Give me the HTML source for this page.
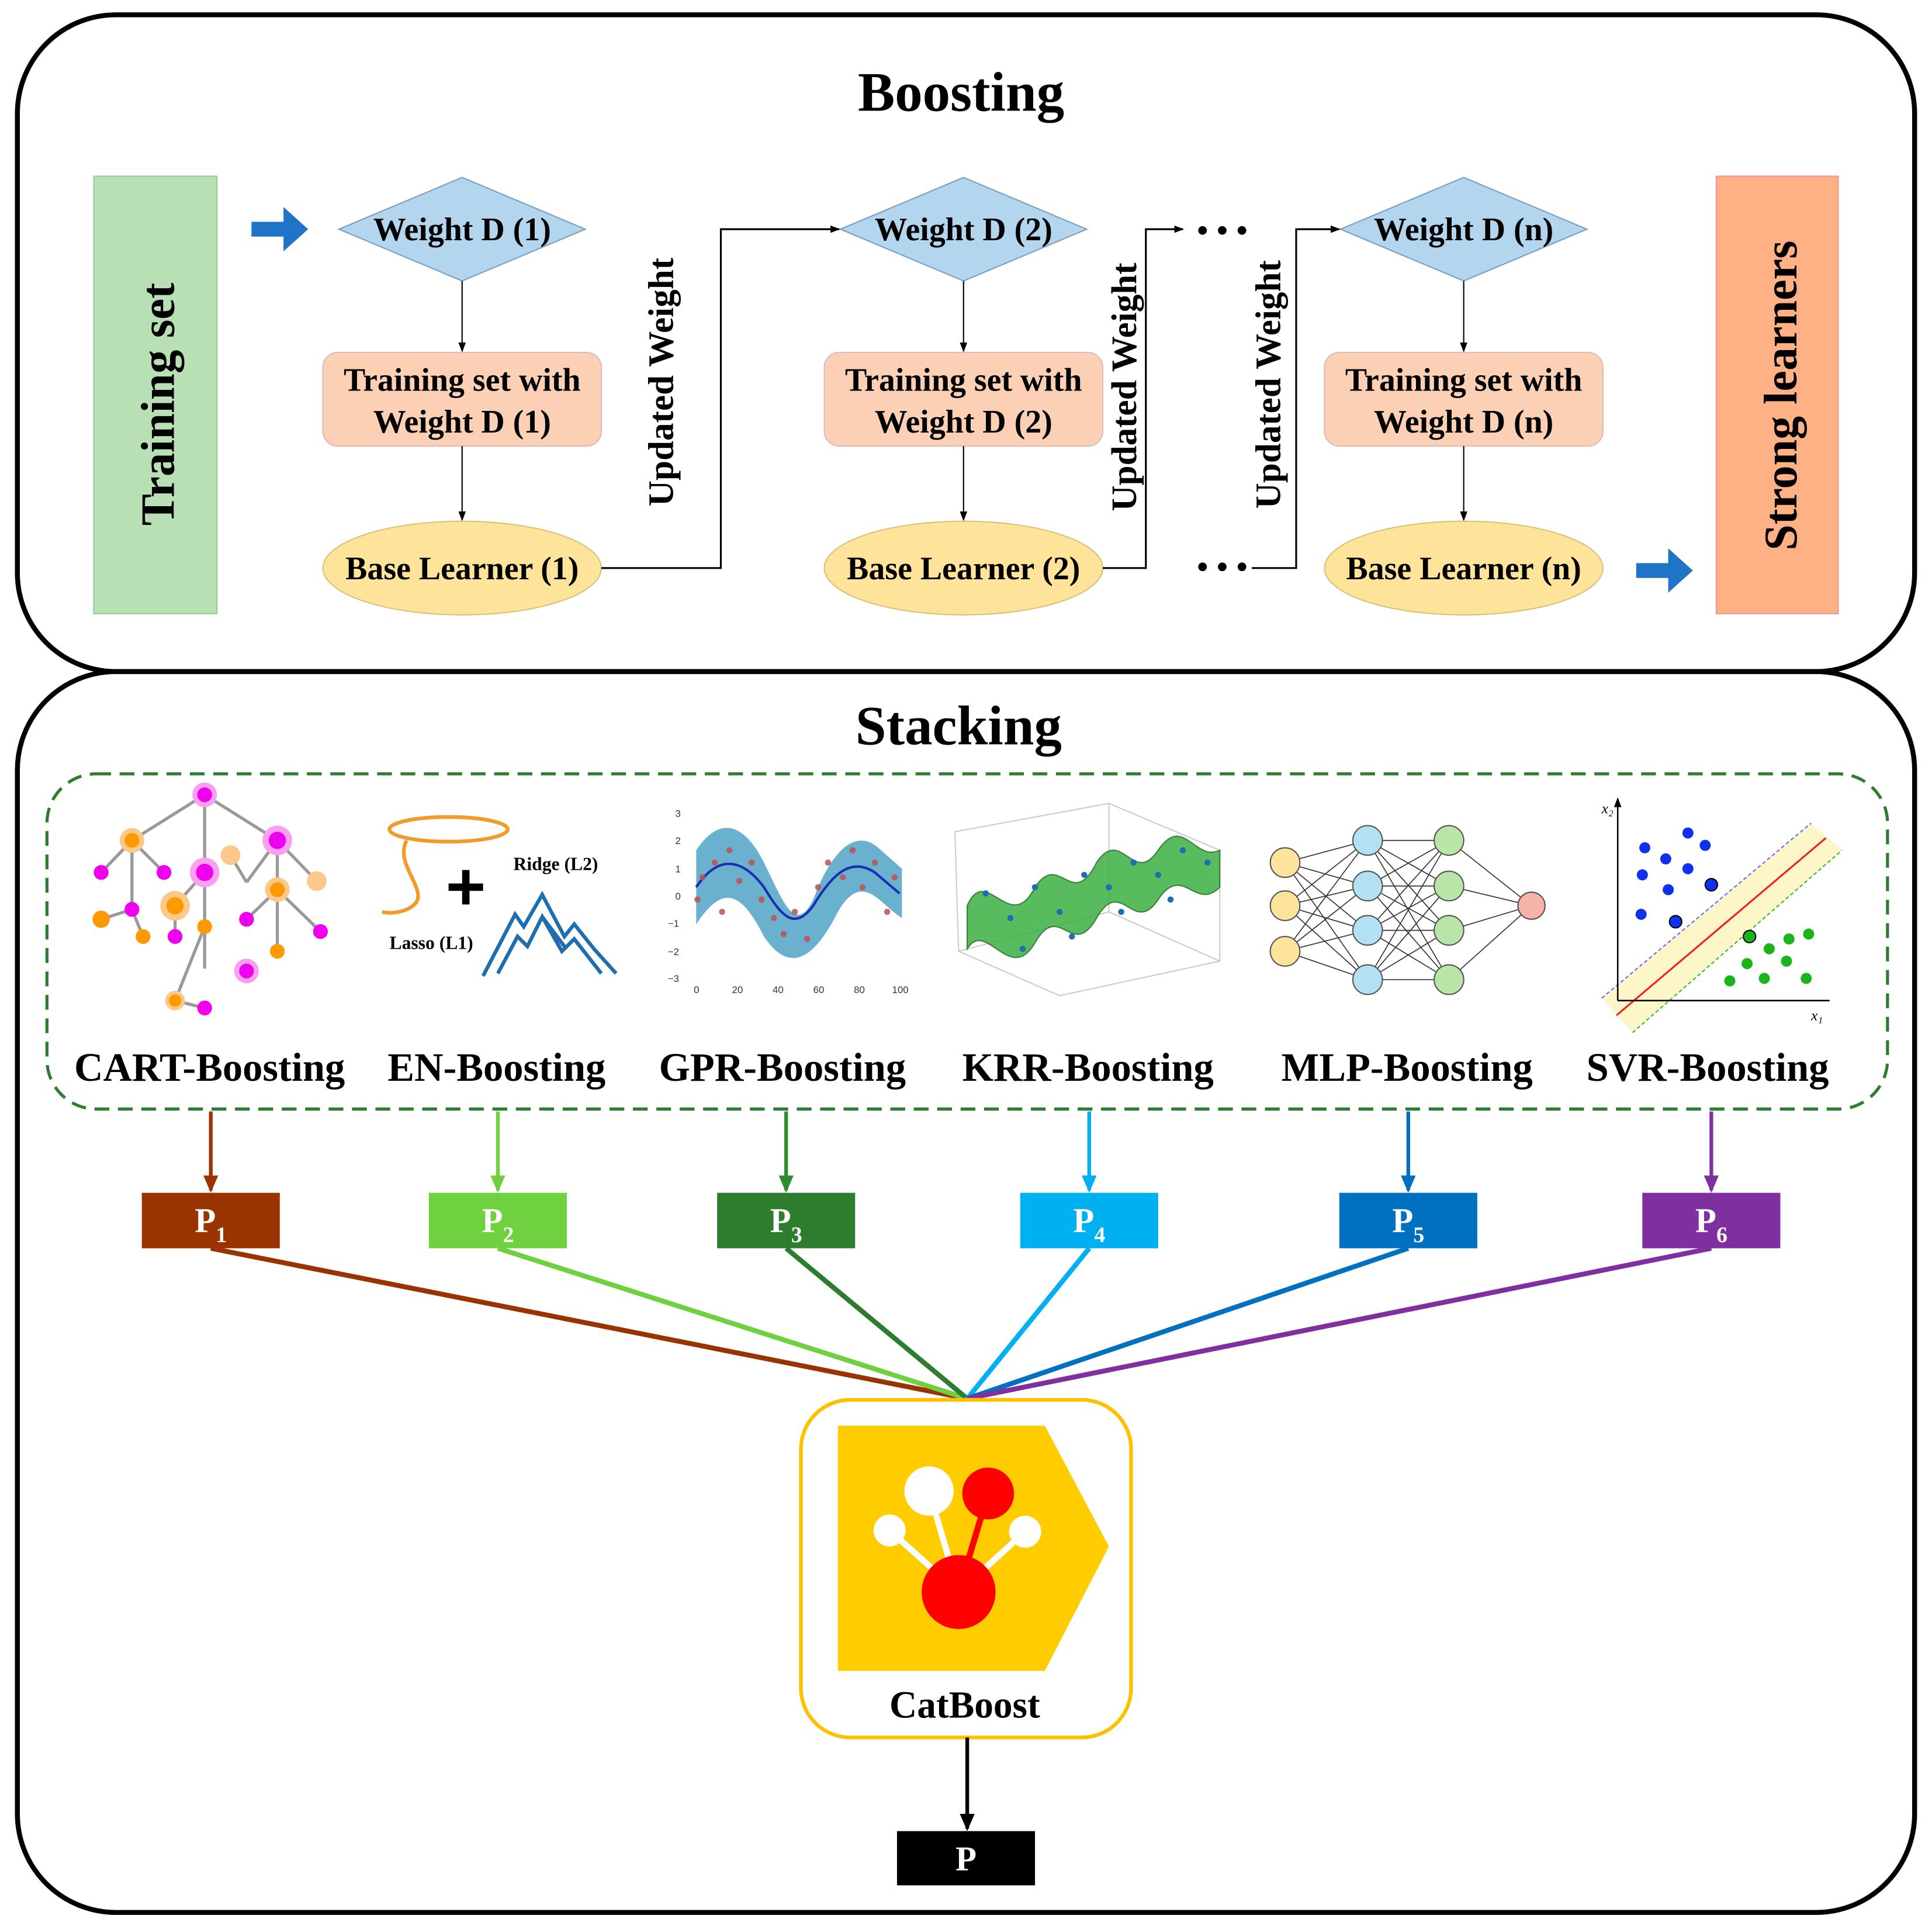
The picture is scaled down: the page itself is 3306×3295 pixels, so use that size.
<!DOCTYPE html>
<html><head><meta charset="utf-8"><style>html,body{margin:0;padding:0;background:#fff}svg{display:block}</style></head><body>
<svg width="3306" height="3295" viewBox="0 0 1568 1563" xmlns="http://www.w3.org/2000/svg" font-family="Liberation Serif, serif" font-weight="bold">
<defs>
<marker id="a" markerWidth="8" markerHeight="8" refX="7" refY="4" orient="auto" markerUnits="userSpaceOnUse"><path d="M0,1 L8,4 L0,7z" fill="#000"/></marker>
<marker id="a2" markerWidth="14" markerHeight="14" refX="12" refY="7" orient="auto" markerUnits="userSpaceOnUse"><path d="M0,1 L14,7 L0,13z" fill="context-stroke"/></marker>
</defs>
<rect width="1568" height="1563" fill="#fff"/>
<rect x="14" y="12" width="1540" height="533" rx="80" fill="none" stroke="#000" stroke-width="4"/>
<rect x="14" y="545" width="1540" height="1007" rx="80" fill="none" stroke="#000" stroke-width="4"/>
<text x="780" y="90" font-size="45" text-anchor="middle">Boosting</text>
<rect x="76" y="143" width="100" height="355" fill="#b9e0b4" stroke="#9c9"/>
<text transform="translate(141,328) rotate(-90)" font-size="38.5" text-anchor="middle">Training set</text>
<rect x="1393" y="143" width="99" height="355" fill="#fdb184" stroke="#e99"/>
<text transform="translate(1458,321) rotate(-90)" font-size="38" text-anchor="middle">Strong learners</text>
<path d="M204,180 h26 v-12 l20,18 l-20,18 v-12 h-26z" fill="#1f74c8"/>
<path d="M1328,457 h26 v-12 l20,18 l-20,18 v-12 h-26z" fill="#1f74c8"/>
<g font-size="26.5">
<polygon points="275,186 375,144 475,186 375,228" fill="#b3d5ee" stroke="#7a9fc0"/>
<text x="375" y="195" text-anchor="middle">Weight D (1)</text>
<line x1="375" y1="228" x2="375" y2="285" stroke="#000" marker-end="url(#a)"/>
<rect x="262" y="286" width="226" height="76" rx="12" fill="#fbd0b5" stroke="#dbb"/>
<text x="375" y="317" text-anchor="middle">Training set with</text>
<text x="375" y="351" text-anchor="middle">Weight D (1)</text>
<line x1="375" y1="362" x2="375" y2="422" stroke="#000" marker-end="url(#a)"/>
<ellipse cx="375" cy="461" rx="113" ry="38" fill="#fde49a" stroke="#d9c27a"/>
<text x="375" y="470" text-anchor="middle">Base Learner (1)</text>
<polygon points="682,186 782,144 882,186 782,228" fill="#b3d5ee" stroke="#7a9fc0"/>
<text x="782" y="195" text-anchor="middle">Weight D (2)</text>
<line x1="782" y1="228" x2="782" y2="285" stroke="#000" marker-end="url(#a)"/>
<rect x="669" y="286" width="226" height="76" rx="12" fill="#fbd0b5" stroke="#dbb"/>
<text x="782" y="317" text-anchor="middle">Training set with</text>
<text x="782" y="351" text-anchor="middle">Weight D (2)</text>
<line x1="782" y1="362" x2="782" y2="422" stroke="#000" marker-end="url(#a)"/>
<ellipse cx="782" cy="461" rx="113" ry="38" fill="#fde49a" stroke="#d9c27a"/>
<text x="782" y="470" text-anchor="middle">Base Learner (2)</text>
<polygon points="1088,186 1188,144 1288,186 1188,228" fill="#b3d5ee" stroke="#7a9fc0"/>
<text x="1188" y="195" text-anchor="middle">Weight D (n)</text>
<line x1="1188" y1="228" x2="1188" y2="285" stroke="#000" marker-end="url(#a)"/>
<rect x="1075" y="286" width="226" height="76" rx="12" fill="#fbd0b5" stroke="#dbb"/>
<text x="1188" y="317" text-anchor="middle">Training set with</text>
<text x="1188" y="351" text-anchor="middle">Weight D (n)</text>
<line x1="1188" y1="362" x2="1188" y2="422" stroke="#000" marker-end="url(#a)"/>
<ellipse cx="1188" cy="461" rx="113" ry="38" fill="#fde49a" stroke="#d9c27a"/>
<text x="1188" y="470" text-anchor="middle">Base Learner (n)</text>
<g font-size="29">
<text transform="translate(546,310) rotate(-90)" text-anchor="middle">Updated Weight</text>
<text transform="translate(922,314) rotate(-90)" text-anchor="middle">Updated Weight</text>
<text transform="translate(1039,312) rotate(-90)" text-anchor="middle">Updated Weight</text>
</g>
</g>
<path d="M488,461 H585 V186 H681" fill="none" stroke="#000" stroke-width="1.5" marker-end="url(#a)"/>
<path d="M895,461 H930 V186 H960" fill="none" stroke="#000" stroke-width="1.5" marker-end="url(#a)"/>
<path d="M1016,461 H1052 V186 H1087" fill="none" stroke="#000" stroke-width="1.5" marker-end="url(#a)"/>
<g fill="#000"><circle cx="976" cy="187" r="3.5"/><circle cx="992" cy="187" r="3.5"/><circle cx="1008" cy="187" r="3.5"/>
<circle cx="976" cy="460" r="3.5"/><circle cx="992" cy="460" r="3.5"/><circle cx="1008" cy="460" r="3.5"/></g>

<text x="778" y="604" font-size="45" text-anchor="middle">Stacking</text>
<rect x="38" y="628" width="1494" height="272" rx="40" fill="none" stroke="#2e7d32" stroke-width="2.5" stroke-dasharray="12,7"/>
<g font-size="32.5" text-anchor="middle">
<text x="170" y="877">CART-Boosting</text><text x="403" y="877">EN-Boosting</text><text x="635" y="877">GPR-Boosting</text>
<text x="883" y="877">KRR-Boosting</text><text x="1142" y="877">MLP-Boosting</text><text x="1386" y="877">SVR-Boosting</text>
</g>
<g stroke="#999" stroke-width="2.5" fill="none">
<path d="M166,645 L107,682 M166,645 L166,708 M166,645 L225,682 M107,682 L82,708 M107,682 L133,708 M107,682 L107,738 M107,738 L82,746 M107,738 L116,760 M166,708 L142,735 M166,708 L166,752 M142,735 L142,760 M166,752 L142,812 M166,752 L166,786 M142,812 L166,818 M225,682 L200,716 M225,682 L225,722 M225,682 L257,715 M225,722 L200,746 M225,722 L225,772 M225,722 L260,756 M200,716 L187,694"/>
</g>
<g>
<circle cx="166" cy="645" r="10" fill="#f9a0f0"/><circle cx="166" cy="645" r="6" fill="#e0e"/>
<circle cx="107" cy="682" r="10" fill="#fcc98a"/><circle cx="107" cy="682" r="6" fill="#f90"/>
<circle cx="225" cy="682" r="12" fill="#f9a0f0"/><circle cx="225" cy="682" r="7" fill="#e0e"/>
<circle cx="166" cy="708" r="12" fill="#f9a0f0"/><circle cx="166" cy="708" r="7" fill="#e0e"/>
<circle cx="82" cy="708" r="6" fill="#e0e"/><circle cx="133" cy="708" r="6" fill="#e0e"/><circle cx="187" cy="694" r="8" fill="#fcc98a"/>
<circle cx="142" cy="735" r="12" fill="#fcc98a"/><circle cx="142" cy="735" r="7" fill="#f90"/>
<circle cx="107" cy="738" r="6" fill="#e0e"/><circle cx="82" cy="746" r="7" fill="#f90"/><circle cx="116" cy="760" r="6" fill="#f90"/>
<circle cx="225" cy="722" r="10" fill="#fcc98a"/><circle cx="225" cy="722" r="6" fill="#f90"/>
<circle cx="257" cy="715" r="8" fill="#fcc98a"/><circle cx="200" cy="746" r="6" fill="#e0e"/><circle cx="260" cy="756" r="6" fill="#e0e"/>
<circle cx="166" cy="752" r="6" fill="#f90"/><circle cx="142" cy="760" r="6" fill="#e0e"/><circle cx="225" cy="772" r="6" fill="#f90"/>
<circle cx="200" cy="788" r="10" fill="#f9a0f0"/><circle cx="200" cy="788" r="6" fill="#e0e"/>
<circle cx="142" cy="812" r="8" fill="#fcc98a"/><circle cx="142" cy="812" r="5" fill="#f90"/><circle cx="166" cy="818" r="6" fill="#e0e"/>
</g>
<ellipse cx="364" cy="673" rx="48" ry="10" fill="none" stroke="#f39a2c" stroke-width="3"/>
<path d="M330,682 C320,700 345,720 338,732 C332,740 318,742 310,740" fill="none" stroke="#f39a2c" stroke-width="3"/>
<path d="M364,720 h28 M378,706 v28" stroke="#000" stroke-width="6"/>
<text x="451" y="706" font-size="15" text-anchor="middle">Ridge (L2)</text>
<text x="350" y="770" font-size="15" text-anchor="middle">Lasso (L1)</text>
<path d="M392,792 L418,742 L425,752 L440,726 L458,760 L466,750 L482,770 L500,790 M404,790 L420,760 L428,768 L440,744 L456,772 L466,762 L488,790 M440,744 L458,768" fill="none" stroke="#1f6fb0" stroke-width="3"/>
<g font-size="8" font-weight="normal" font-family="Liberation Sans, sans-serif" fill="#333">
<text x="548" y="663">3</text><text x="548" y="685">2</text><text x="548" y="708">1</text><text x="548" y="730">0</text><text x="542" y="752">−1</text><text x="542" y="775">−2</text><text x="542" y="797">−3</text>
<text x="563" y="806">0</text><text x="594" y="806">20</text><text x="627" y="806">40</text><text x="660" y="806">60</text><text x="693" y="806">80</text><text x="724" y="806">100</text>
</g>
<path d="M565,690 C585,660 605,670 620,700 C635,730 645,760 660,730 C675,690 695,670 715,690 L732,705 L732,745 C715,735 700,705 680,740 C660,780 640,790 620,760 C600,720 585,720 565,750z" fill="#4fa3c7" opacity="0.85"/>
<path d="M565,720 C585,690 605,700 620,720 C635,745 645,755 660,735 C675,710 690,695 710,708 L730,725" fill="none" stroke="#1a2fb0" stroke-width="2"/>
<g fill="#c05050" opacity="0.85"><circle cx="570" cy="712" r="2.5"/><circle cx="580" cy="700" r="2.5"/><circle cx="592" cy="690" r="2.5"/><circle cx="600" cy="715" r="2.5"/><circle cx="610" cy="700" r="2.5"/><circle cx="618" cy="730" r="2.5"/><circle cx="628" cy="745" r="2.5"/><circle cx="636" cy="758" r="2.5"/><circle cx="645" cy="740" r="2.5"/><circle cx="655" cy="762" r="2.5"/><circle cx="664" cy="720" r="2.5"/><circle cx="672" cy="700" r="2.5"/><circle cx="684" cy="712" r="2.5"/><circle cx="692" cy="690" r="2.5"/><circle cx="700" cy="720" r="2.5"/><circle cx="710" cy="700" r="2.5"/><circle cx="720" cy="740" r="2.5"/><circle cx="726" cy="712" r="2.5"/><circle cx="586" cy="740" r="2.5"/><circle cx="566" cy="730" r="2.5"/></g>
<g stroke="#ccc" fill="none"><path d="M775,675 L900,652 L990,690 L990,780 L860,808 L778,772z M900,652 L900,740 L778,772 M900,740 L990,780"/></g>
<path d="M785,735 C800,700 820,760 840,720 C860,690 870,740 890,700 C910,670 920,720 940,690 C960,660 970,700 990,690 L990,720 C970,740 960,700 940,730 C920,760 910,710 890,745 C870,780 860,730 840,765 C820,800 800,745 785,770z" fill="#3cb043" opacity="0.85" stroke="#1a6a20"/>
<g fill="#1f6fb0"><circle cx="800" cy="725" r="2.5"/><circle cx="820" cy="745" r="2.5"/><circle cx="840" cy="720" r="2.5"/><circle cx="860" cy="740" r="2.5"/><circle cx="880" cy="710" r="2.5"/><circle cx="900" cy="720" r="2.5"/><circle cx="920" cy="700" r="2.5"/><circle cx="940" cy="710" r="2.5"/><circle cx="960" cy="690" r="2.5"/><circle cx="980" cy="700" r="2.5"/><circle cx="830" cy="770" r="2.5"/><circle cx="870" cy="760" r="2.5"/><circle cx="910" cy="740" r="2.5"/><circle cx="950" cy="730" r="2.5"/></g>
<g stroke="#333" stroke-width="0.8">
<path d="M1043,700 L1110,682 M1043,700 L1110,719 M1043,700 L1110,755 M1043,700 L1110,795 M1043,735 L1110,682 M1043,735 L1110,719 M1043,735 L1110,755 M1043,735 L1110,795 M1043,772 L1110,682 M1043,772 L1110,719 M1043,772 L1110,755 M1043,772 L1110,795"/>
<path d="M1110,682 L1176,682 M1110,682 L1176,719 M1110,682 L1176,755 M1110,682 L1176,795 M1110,719 L1176,682 M1110,719 L1176,719 M1110,719 L1176,755 M1110,719 L1176,795 M1110,755 L1176,682 M1110,755 L1176,719 M1110,755 L1176,755 M1110,755 L1176,795 M1110,795 L1176,682 M1110,795 L1176,719 M1110,795 L1176,755 M1110,795 L1176,795"/>
<path d="M1176,682 L1243,735 M1176,719 L1243,735 M1176,755 L1243,735 M1176,795 L1243,735"/>
</g>
<g stroke="#555"><circle cx="1043" cy="700" r="12" fill="#fde49a"/><circle cx="1043" cy="735" r="12" fill="#fde49a"/><circle cx="1043" cy="772" r="12" fill="#fde49a"/>
<circle cx="1110" cy="682" r="12" fill="#b3e0f2"/><circle cx="1110" cy="719" r="12" fill="#b3e0f2"/><circle cx="1110" cy="755" r="12" fill="#b3e0f2"/><circle cx="1110" cy="795" r="12" fill="#b3e0f2"/>
<circle cx="1176" cy="682" r="12" fill="#b9e5a8"/><circle cx="1176" cy="719" r="12" fill="#b9e5a8"/><circle cx="1176" cy="755" r="12" fill="#b9e5a8"/><circle cx="1176" cy="795" r="12" fill="#b9e5a8"/>
<circle cx="1243" cy="735" r="11" fill="#f6b3aa"/></g>
<path d="M1300,810 L1470,668 L1495,690 L1325,838z" fill="#fdf6c8"/>
<path d="M1300,810 L1470,668" stroke="#66f" stroke-dasharray="3,2"/><path d="M1312,824 L1482,680" stroke="#e22" stroke-width="1.5"/><path d="M1325,838 L1495,690" stroke="#3b3" stroke-dasharray="3,2"/>
<path d="M1313,812 H1485 M1313,812 V648" stroke="#000" stroke-width="1.2" marker-end="url(#a)"/>
<text x="1300" y="660" font-size="12" font-style="italic" font-weight="normal">x₂</text><text x="1470" y="828" font-size="12" font-style="italic" font-weight="normal">x₁</text>
<g fill="#1030f0"><circle cx="1335" cy="688" r="4.5"/><circle cx="1370" cy="676" r="4.5"/><circle cx="1352" cy="697" r="4.5"/><circle cx="1384" cy="686" r="4.5"/><circle cx="1333" cy="710" r="4.5"/><circle cx="1354" cy="722" r="4.5"/><circle cx="1370" cy="705" r="4.5"/><circle cx="1332" cy="742" r="4.5"/><circle cx="1360" cy="748" r="5" stroke="#000"/><circle cx="1389" cy="718" r="5" stroke="#000"/></g>
<g fill="#1bb51b"><circle cx="1420" cy="760" r="5" stroke="#000"/><circle cx="1436" cy="770" r="4.5"/><circle cx="1452" cy="762" r="4.5"/><circle cx="1468" cy="758" r="4.5"/><circle cx="1450" cy="780" r="4.5"/><circle cx="1432" cy="794" r="4.5"/><circle cx="1404" cy="796" r="4.5"/><circle cx="1466" cy="794" r="4.5"/><circle cx="1418" cy="782" r="4.5"/></g>
<g stroke-width="3" fill="none">
<line x1="171" y1="902" x2="171" y2="966" stroke="#993300" marker-end="url(#a2)"/>
<line x1="404" y1="902" x2="404" y2="966" stroke="#70d040" marker-end="url(#a2)"/>
<line x1="638" y1="902" x2="638" y2="966" stroke="#2e8b2e" marker-end="url(#a2)"/>
<line x1="884" y1="902" x2="884" y2="966" stroke="#00b0f0" marker-end="url(#a2)"/>
<line x1="1143" y1="902" x2="1143" y2="966" stroke="#0070c0" marker-end="url(#a2)"/>
<line x1="1389" y1="902" x2="1389" y2="966" stroke="#7f2fa0" marker-end="url(#a2)"/>
<line x1="171" y1="1013" x2="785" y2="1135" stroke="#993300" stroke-width="4"/>
<line x1="404" y1="1013" x2="785" y2="1135" stroke="#70d040" stroke-width="4"/>
<line x1="638" y1="1013" x2="785" y2="1135" stroke="#2e7d2e" stroke-width="4"/>
<line x1="884" y1="1013" x2="785" y2="1135" stroke="#00b0f0" stroke-width="4"/>
<line x1="1143" y1="1013" x2="785" y2="1135" stroke="#0070c0" stroke-width="4"/>
<line x1="1389" y1="1013" x2="785" y2="1135" stroke="#7f2fa0" stroke-width="4"/>
</g>
<g font-size="28" fill="#fff" text-anchor="middle">
<rect x="115" y="968" width="112" height="45" fill="#993300"/><text x="171" y="1000">P<tspan font-size="18" dy="8">1</tspan></text>
<rect x="348" y="968" width="112" height="45" fill="#6fd040"/><text x="404" y="1000">P<tspan font-size="18" dy="8">2</tspan></text>
<rect x="582" y="968" width="112" height="45" fill="#2e7d2e"/><text x="638" y="1000">P<tspan font-size="18" dy="8">3</tspan></text>
<rect x="828" y="968" width="112" height="45" fill="#00b0f0"/><text x="884" y="1000">P<tspan font-size="18" dy="8">4</tspan></text>
<rect x="1087" y="968" width="112" height="45" fill="#0070c0"/><text x="1143" y="1000">P<tspan font-size="18" dy="8">5</tspan></text>
<rect x="1333" y="968" width="112" height="45" fill="#7f2fa0"/><text x="1389" y="1000">P<tspan font-size="18" dy="8">6</tspan></text>
<rect x="728" y="1486" width="112" height="44" fill="#000"/><text x="784" y="1518">P</text>
</g>
<rect x="650" y="1136" width="268" height="274" rx="40" fill="#fff" stroke="#ffc000" stroke-width="3"/>
<polygon points="680,1157 848,1157 900,1255 848,1356 680,1356" fill="#ffcc00"/>
<g stroke-width="5"><line x1="778" y1="1292" x2="754" y2="1210" stroke="#fff"/><line x1="778" y1="1292" x2="722" y2="1242" stroke="#fff"/><line x1="778" y1="1292" x2="832" y2="1243" stroke="#fff"/><line x1="778" y1="1292" x2="802" y2="1212" stroke="#f00"/></g>
<circle cx="754" cy="1210" r="20" fill="#fff"/><circle cx="722" cy="1242" r="13" fill="#fff"/><circle cx="832" cy="1243" r="13" fill="#fff"/>
<circle cx="802" cy="1212" r="21" fill="#f00"/><circle cx="778" cy="1292" r="30" fill="#f00"/>
<text x="783" y="1394" font-size="31" text-anchor="middle">CatBoost</text>
<line x1="785" y1="1410" x2="785" y2="1484" stroke="#000" stroke-width="3" marker-end="url(#a2)"/>
</svg>
</body></html>
